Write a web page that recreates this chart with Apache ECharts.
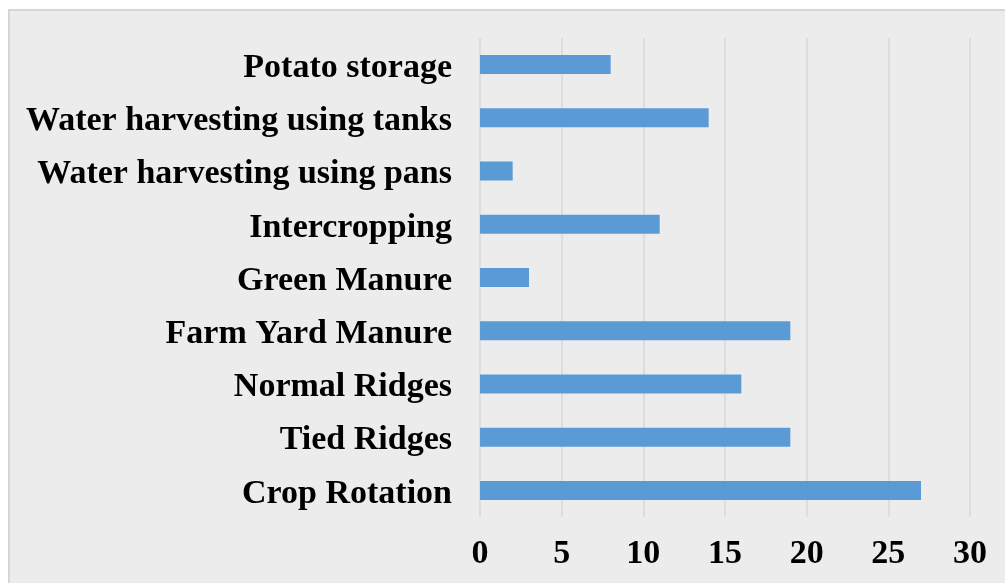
<!DOCTYPE html>
<html>
<head>
<meta charset="utf-8">
<script src="https://cdn.jsdelivr.net/npm/echarts@6/dist/echarts.min.js"></script>
<style>
  html, body { margin: 0; padding: 0; background: #ffffff; }
  #frame { position: absolute; left: 8px; top: 9px; width: 1000px; height: 580px;
           background: #ececec; border-left: 2px solid #d6d6d6; border-top: 2px solid #d6d6d6; }
  #chart { position: absolute; left: 0; top: 0; width: 1005px; height: 583px; }
</style>
</head>
<body>
<div id="frame"></div>
<div id="chart"></div>
<script>
const categories = [
  "Crop Rotation",
  "Tied Ridges",
  "Normal Ridges",
  "Farm Yard Manure",
  "Green Manure",
  "Intercropping",
  "Water harvesting using pans",
  "Water harvesting using tanks",
  "Potato storage"
];
const values = [27, 19, 16, 19, 3, 11, 2, 14, 8];
const xTicks = { min: 0, max: 30, interval: 5 };

const font = "'Liberation Serif', 'Times New Roman', serif";
const chart = echarts.init(document.getElementById('chart'), null, { renderer: 'canvas' });
chart.setOption({
  backgroundColor: 'transparent',
  animation: false,
  grid: { left: 480, right: 35, top: 38, bottom: 66, containLabel: false },
  xAxis: {
    type: 'value',
    min: xTicks.min, max: xTicks.max, interval: xTicks.interval,
    axisLine: { show: false },
    axisTick: { show: false },
    splitLine: { show: true, lineStyle: { color: '#d9d9d9', width: 1.5 } },
    axisLabel: { color: '#000', fontFamily: font, fontWeight: 'bold', fontSize: 34, margin: 20 }
  },
  yAxis: {
    type: 'category',
    data: categories,
    axisLine: { show: false },
    axisTick: { show: false },
    axisLabel: {
      margin: 28,
      formatter: function (v) { return '{c|' + v + '}'; },
      rich: {
        c: { color: '#000', fontFamily: font, fontWeight: 'bold', fontSize: 34,
             lineHeight: 34, padding: [7, 0, 0, 0] }
      }
    }
  },
  series: [{
    type: 'bar',
    data: values,
    barWidth: 19,
    itemStyle: { color: '#5b9bd5' }
  }]
});
</script>
</body>
</html>
